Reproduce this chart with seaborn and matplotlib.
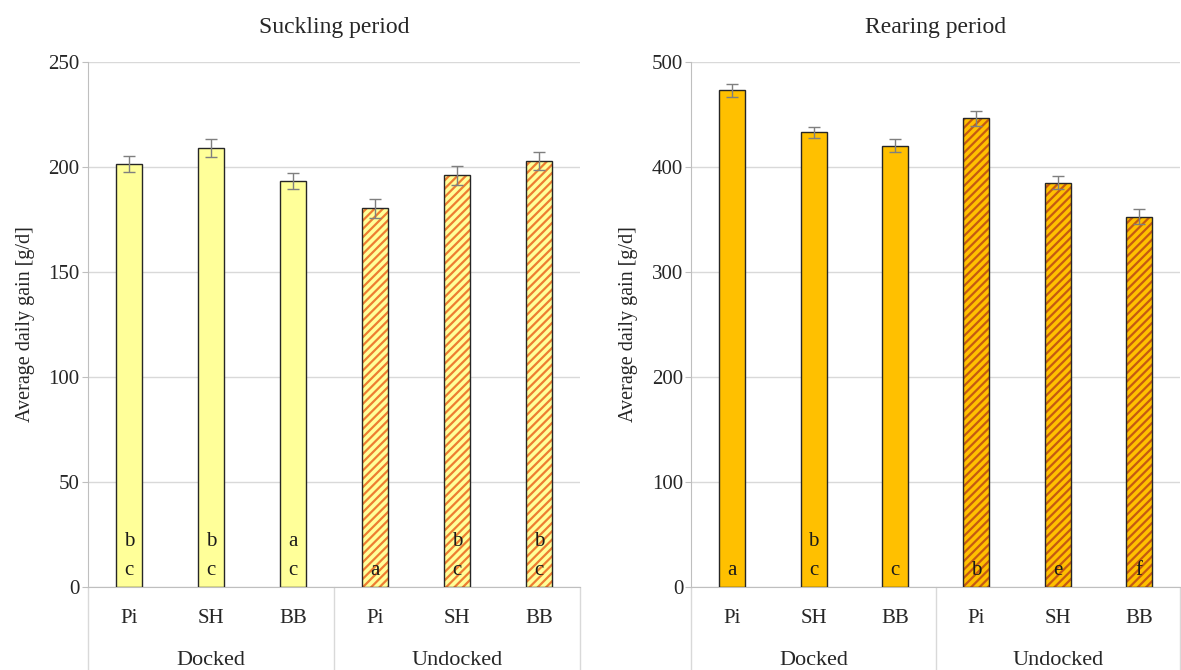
import numpy as np
import pandas as pd
import matplotlib
matplotlib.use("Agg")
import matplotlib.pyplot as plt
import matplotlib.transforms as mtransforms
from matplotlib.patches import Rectangle
import seaborn as sns

groups = ["Docked", "Docked", "Docked", "Undocked", "Undocked", "Undocked"]
breeds = ["Pi", "SH", "BB", "Pi", "SH", "BB"]

suckling_gain = [201.5, 209.0, 193.3, 180.3, 196.0, 202.9]
suckling_err = [3.7, 4.2, 3.7, 4.5, 4.6, 4.4]
suckling_top = ["b", "b", "a", "", "b", "b"]
suckling_bottom = ["c", "c", "c", "a", "c", "c"]

rearing_gain = [473.3, 433.0, 420.3, 446.3, 385.0, 352.7]
rearing_err = [6.2, 5.4, 6.0, 7.0, 6.0, 7.0]
rearing_top = ["", "b", "", "", "", ""]
rearing_bottom = ["a", "c", "c", "b", "e", "f"]

sns.set_style("white")
plt.rcParams["font.family"] = ["Liberation Serif", "DejaVu Serif"]
plt.rcParams["hatch.linewidth"] = 1.6

GRID = "#D9D9D9"
SPINE = "#BFBFBF"


def draw_panel(ax, gain, err, top, bottom, fill, stripe, ymax, ystep, title):
    keys = [g + " " + b for g, b in zip(groups, breeds)]
    df = pd.DataFrame({"key": keys, "group": groups, "gain": gain})
    colors = {k: fill for k in keys}
    sns.barplot(data=df, x="key", y="gain", hue="key", order=keys, palette=colors,
                saturation=1, legend=False, width=0.32, edgecolor="#262626",
                linewidth=1.0, zorder=3, ax=ax)

    # hatched bars for undocked: stripes in orange, then black outline on top
    for p, g in zip(ax.patches, groups):
        if g == "Undocked":
            p.set_hatch("////")
            p.set_edgecolor(stripe)
            p.set_linewidth(0)
            ax.add_patch(Rectangle(p.get_xy(), p.get_width(), p.get_height(),
                                   fill=False, edgecolor="#262626", lw=1.0, zorder=4))

    ax.errorbar(np.arange(len(gain)), gain, yerr=err, fmt="none", ecolor="#7F7F7F",
                elinewidth=1, capsize=4, capthick=1, zorder=5)

    # significance letters
    trans = mtransforms.blended_transform_factory(ax.transData, ax.transAxes)
    for i, (t, b) in enumerate(zip(top, bottom)):
        if t:
            ax.text(i, 0.086, t, transform=trans, ha="center", va="center",
                    fontsize=15, color="#1a1a1a", zorder=6)
        if b:
            ax.text(i, 0.032, b, transform=trans, ha="center", va="center",
                    fontsize=15, color="#1a1a1a", zorder=6)

    ax.set_xlim(-0.5, len(gain) - 0.5)
    ax.set_ylim(0, ymax)
    ax.set_yticks(np.arange(0, ymax + 1, ystep))
    ax.yaxis.grid(True, color=GRID, lw=1, zorder=0)
    ax.set_axisbelow(True)
    for s in ["top", "right"]:
        ax.spines[s].set_visible(False)
    ax.spines["left"].set_color(SPINE)
    ax.spines["bottom"].set_color(SPINE)
    ax.tick_params(axis="y", left=True, length=4, color=SPINE, labelsize=15, pad=2)
    ax.tick_params(axis="x", bottom=False, length=0, labelsize=15, pad=16)
    ax.set_xticks(range(len(breeds)))
    ax.set_xticklabels(breeds)
    ax.set_xlabel("")
    ax.set_ylabel("Average daily gain [g/d]", fontsize=14.5, labelpad=10)
    ax.set_title(title, fontsize=17, pad=21)

    # group labels and separators below the axis
    ax.text(1, -0.14, "Docked", transform=trans, ha="center", va="center", fontsize=16)
    ax.text(4, -0.14, "Undocked", transform=trans, ha="center", va="center", fontsize=16)
    for xs in [-0.5, 2.5, 5.5]:
        ax.plot([xs, xs], [0, -0.16], transform=trans, color=GRID, lw=1, clip_on=False)


fig = plt.figure(figsize=(11.81, 6.70), dpi=100)
ax1 = fig.add_axes([0.0745, 0.1239, 0.4166, 0.7836])
ax2 = fig.add_axes([0.5855, 0.1239, 0.4135, 0.7836])

draw_panel(ax1, suckling_gain, suckling_err, suckling_top, suckling_bottom,
           "#FFFF99", "#ED7D31", 250, 50, "Suckling period")
draw_panel(ax2, rearing_gain, rearing_err, rearing_top, rearing_bottom,
           "#FFC000", "#C55A11", 500, 100, "Rearing period")

fig.savefig("out.png", dpi=100)
